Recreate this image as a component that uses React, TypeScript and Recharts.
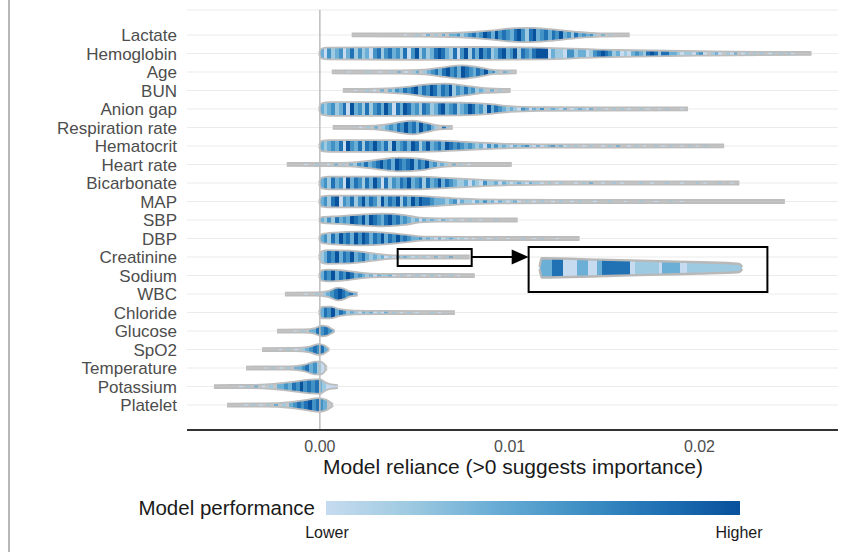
import React from 'react';
import {
    ComposedChart, Area, XAxis, YAxis, CartesianGrid, ReferenceLine, ReferenceArea, ReferenceDot
} from 'recharts';

const FONT = '"Liberation Sans", Arial, Helvetica, sans-serif';

const FEATURES = [
    'Lactate', 'Hemoglobin', 'Age', 'BUN', 'Anion gap', 'Respiration rate', 'Hematocrit',
    'Heart rate', 'Bicarbonate', 'MAP', 'SBP', 'DBP', 'Creatinine', 'Sodium', 'WBC',
    'Chloride', 'Glucose', 'SpO2', 'Temperature', 'Potassium', 'Platelet'
];

// violin outline per feature: [model reliance, half width in rows]
const PROFILES: number[][][] = [
    [[0.00168, 0.08], [0.00526, 0.085], [0.00737, 0.13], [0.00895, 0.235], [0.01026, 0.37], [0.01105, 0.385], [0.01211, 0.32], [0.01342, 0.18], [0.01474, 0.09], [0.01632, 0.08]],
    [[-0.00005, 0.03], [0.0001, 0.27], [0.0004, 0.32], [0.0042, 0.34], [0.0084, 0.35], [0.0116, 0.32], [0.0147, 0.21], [0.0174, 0.16], [0.02, 0.12], [0.0232, 0.085], [0.0259, 0.08]],
    [[0.00063, 0.08], [0.00421, 0.085], [0.00553, 0.13], [0.00658, 0.265], [0.00747, 0.36], [0.00832, 0.265], [0.00921, 0.1], [0.01037, 0.08]],
    [[0.00121, 0.08], [0.00316, 0.1], [0.00474, 0.21], [0.00579, 0.345], [0.00658, 0.37], [0.00763, 0.265], [0.00868, 0.13], [0.01005, 0.08]],
    [[-0.00005, 0.03], [0.0001, 0.31], [0.0005, 0.37], [0.0042, 0.37], [0.0074, 0.345], [0.009, 0.265], [0.01, 0.155], [0.0116, 0.1], [0.0147, 0.085], [0.0194, 0.08]],
    [[0.00068, 0.08], [0.00237, 0.085], [0.00342, 0.155], [0.00421, 0.29], [0.00489, 0.37], [0.00553, 0.265], [0.00632, 0.1], [0.007, 0.08]],
    [[-0.00005, 0.03], [0.0001, 0.28], [0.0005, 0.32], [0.0042, 0.32], [0.0063, 0.29], [0.0079, 0.21], [0.0095, 0.13], [0.0116, 0.09], [0.0158, 0.085], [0.0213, 0.08]],
    [[-0.00174, 0.08], [0.00053, 0.085], [0.00158, 0.1], [0.00289, 0.235], [0.00421, 0.37], [0.00526, 0.32], [0.00605, 0.18], [0.00711, 0.085], [0.01011, 0.08]],
    [[-0.00005, 0.03], [0.0001, 0.29], [0.0005, 0.345], [0.0053, 0.34], [0.0068, 0.265], [0.0084, 0.18], [0.01, 0.12], [0.0126, 0.09], [0.0221, 0.08]],
    [[-0.00005, 0.03], [0.0001, 0.28], [0.0005, 0.32], [0.0042, 0.32], [0.0058, 0.265], [0.0074, 0.155], [0.0095, 0.1], [0.0126, 0.085], [0.0245, 0.08]],
    [[-0.00005, 0.03], [0.0001, 0.155], [0.00105, 0.21], [0.00211, 0.29], [0.00332, 0.345], [0.00447, 0.265], [0.00526, 0.13], [0.00632, 0.085], [0.01042, 0.08]],
    [[-0.00005, 0.03], [0.0001, 0.235], [0.00079, 0.32], [0.00211, 0.37], [0.00342, 0.32], [0.00447, 0.21], [0.00553, 0.1], [0.00737, 0.085], [0.01368, 0.08]],
    [[-0.00005, 0.03], [0.0001, 0.31], [0.00042, 0.37], [0.00158, 0.345], [0.00237, 0.265], [0.00316, 0.155], [0.00395, 0.09], [0.00526, 0.085], [0.00789, 0.08]],
    [[-0.00005, 0.03], [0.0001, 0.28], [0.00042, 0.32], [0.00132, 0.265], [0.00211, 0.155], [0.00316, 0.09], [0.00526, 0.085], [0.00816, 0.08]],
    [[-0.00184, 0.08], [-0.00026, 0.085], [0.00042, 0.155], [0.00095, 0.345], [0.00132, 0.265], [0.00158, 0.13], [0.002, 0.08]],
    [[-0.00005, 0.03], [0.0001, 0.31], [0.00053, 0.32], [0.00105, 0.18], [0.00184, 0.1], [0.00316, 0.085], [0.00711, 0.08]],
    [[-0.00226, 0.08], [-0.00079, 0.085], [-0.00026, 0.155], [0.0001, 0.29], [0.00042, 0.235], [0.00068, 0.085], [0.00078, 0.04]],
    [[-0.00305, 0.08], [-0.00132, 0.085], [-0.00053, 0.155], [-0.00005, 0.29], [0.00026, 0.21], [0.00042, 0.085], [0.0005, 0.04]],
    [[-0.00389, 0.08], [-0.00158, 0.085], [-0.00079, 0.18], [-0.00026, 0.345], [0.00005, 0.345], [0.00026, 0.18], [0.00037, 0.04]],
    [[-0.00558, 0.08], [-0.00368, 0.085], [-0.00263, 0.13], [-0.00158, 0.235], [-0.00053, 0.37], [0, 0.4], [0.00026, 0.235], [0.00053, 0.13], [0.00095, 0.08]],
    [[-0.00489, 0.08], [-0.00289, 0.085], [-0.00158, 0.155], [-0.00079, 0.265], [-0.0001, 0.37], [0.00032, 0.29], [0.00058, 0.13], [0.0007, 0.04]],
];

// model performance of the fitted models, binned along reliance (0 = no model, 1 low .. 6 high)
const STRIPE_BIN = 0.0002;
const STRIPE_START = [
    0.00421, 0, 0.00105, 0.00158, 0, 0.00184, 0, -0.00105, 0, 0, 0, 0, 0, 0, -0.00105, 0,
    -0.00158, -0.00237, -0.00316, -0.00447, -0.00421
];
const STRIPES = [
    '01002013020303342345346536454356425634535463425343420302',
    '314234135242314524534251462423565325146253645235634625435666132214423312456542312134325652553321221341023102130120202012020210',
    '001000020010020301023023453564536543546342032',
    '0100201030324354563546535462435342320302',
    '3234235163425245364153653425423563452346534263543232143132402321301232130201020201002010010200010',
    '0102030234354645364532052',
    '323435164352546435263453652463453654543432314242321323421312342312020102001020300102010020102001020102',
    '0100200103020324353456453654563546342320302010',
    '34253416354253641524354634525346354322313214223132123213221020120001020300100201000020010002000100020100020010',
    '342561435246354263546253646554333234132213242313212310201020010200102000100020001000200010002001000',
    '3242534365463654356453432313232132120102001000200',
    '34253645364653546354645433423213123212101020102001000200102000100',
    '23546354634532323121323212021031024020',
    '35463546534323132231020102010201002010',
    '0100202345654531',
    '3546354232132312130201020100020100',
    '010203354543',
    '01020102345453',
    '01020102033453421',
    '010203010203343546454532111',
    '01020102030203454564543',
];

const LEVEL_COLORS = ['#c3c6c9', '#c6dbef', '#9ecae1', '#6baed6', '#4292c6', '#2171b5', '#08519c'];

// magnified tail of Creatinine shown in the inset box
const INSET_ROW = 7.41;
const INSET_PROFILE = [[0.01158, 0.05], [0.01168, 0.52], [0.0147, 0.45], [0.0179, 0.36], [0.02, 0.31], [0.0221, 0.22], [0.02225, 0.06]];
const INSET_BREAKS = [0.01163, 0.01221, 0.01279, 0.01353, 0.01411, 0.01458, 0.01484, 0.01632, 0.01658, 0.01789, 0.01805, 0.01895, 0.01932, 0.02211];
const INSET_LEVELS = [3, 5, 1, 3, 1, 3, 5, 1, 2, 1, 3, 1, 2];

const X_TICKS = [0, 0.01, 0.02];
const ROWS = FEATURES.map((_f, i) => i);
const GRAY = LEVEL_COLORS[0];

type Stop = { o: number; c: string };

function featureStops(profile: number[][], start: number, codes: string): Stop[] {
    const x0 = profile[0][0];
    const x1 = profile[profile.length - 1][0];
    const off = (x: number) => Math.min(1, Math.max(0, (x - x0) / (x1 - x0)));
    const out: Stop[] = [{ o: 0, c: GRAY }, { o: off(start), c: GRAY }];
    codes.split('').forEach((ch, k) => {
        const c = LEVEL_COLORS[Number(ch)] || GRAY;
        out.push({ o: off(start + k * STRIPE_BIN), c }, { o: off(start + (k + 1) * STRIPE_BIN), c });
    });
    out.push({ o: off(start + codes.length * STRIPE_BIN), c: GRAY }, { o: 1, c: GRAY });
    return out;
}

function insetStops(): Stop[] {
    const x0 = INSET_PROFILE[0][0];
    const x1 = INSET_PROFILE[INSET_PROFILE.length - 1][0];
    const off = (x: number) => Math.min(1, Math.max(0, (x - x0) / (x1 - x0)));
    const out: Stop[] = [{ o: 0, c: LEVEL_COLORS[3] }];
    INSET_LEVELS.forEach((lv, k) => {
        const c = LEVEL_COLORS[lv];
        out.push({ o: off(INSET_BREAKS[k]), c }, { o: off(INSET_BREAKS[k + 1]), c });
    });
    out.push({ o: 1, c: LEVEL_COLORS[2] });
    return out;
}

const Arrowhead = (p: any) => (
    <polygon points={`${p.cx - 9},${p.cy - 7.5} ${p.cx + 8},${p.cy} ${p.cx - 9},${p.cy + 7.5}`} fill="#000" />
);

const App: React.FC = () => {
    const violins = FEATURES.map((name, i) => {
        const row = FEATURES.length - 1 - i;
        return {
            name,
            data: PROFILES[i].map(([x, h]) => ({ x, r: [row - h, row + h] })),
            stops: featureStops(PROFILES[i], STRIPE_START[i], STRIPES[i]),
        };
    });
    const insetData = INSET_PROFILE.map(([x, h]) => ({ x, r: [INSET_ROW - h, INSET_ROW + h] }));

    return (
        <div style={{ position: 'absolute', left: 0, top: 0, width: 848, height: 552, background: '#fff', fontFamily: FONT }}>
            <ComposedChart width={848} height={552} margin={{ top: 10, right: 10, bottom: 92, left: 0 }}>
                <defs>
                    {violins.map((v, i) => (
                        <linearGradient key={v.name} id={`vg${i}`} x1="0" y1="0" x2="1" y2="0">
                            {v.stops.map((s, k) => (
                                <stop key={k} offset={`${(s.o * 100).toFixed(3)}%`} stopColor={s.c} />
                            ))}
                        </linearGradient>
                    ))}
                    <linearGradient id="vgInset" x1="0" y1="0" x2="1" y2="0">
                        {insetStops().map((s, k) => (
                            <stop key={k} offset={`${(s.o * 100).toFixed(3)}%`} stopColor={s.c} />
                        ))}
                    </linearGradient>
                </defs>
                <CartesianGrid vertical={false} stroke="#ebebeb" strokeWidth={1.2} />
                <XAxis
                    type="number"
                    dataKey="x"
                    domain={[-0.007, 0.0273]}
                    allowDataOverflow
                    ticks={X_TICKS}
                    tickFormatter={(v: number) => v.toFixed(2)}
                    tickLine={false}
                    axisLine={{ stroke: '#333', strokeWidth: 2 }}
                    tick={{ fill: '#4d4d4d', fontSize: 16, fontFamily: FONT }}
                    tickMargin={5}
                    height={30}
                />
                <YAxis
                    type="number"
                    domain={[-1.35, 21.35]}
                    allowDataOverflow
                    ticks={ROWS}
                    interval={0}
                    tickFormatter={(v: number) => FEATURES[FEATURES.length - 1 - v]}
                    width={187}
                    tickLine={false}
                    axisLine={false}
                    tick={{ fill: '#4d4d4d', fontSize: 17, fontFamily: FONT }}
                    tickMargin={4}
                />
                <ReferenceLine x={0} stroke="#bdbdbd" strokeWidth={1.5} />
                {violins.map((v, i) => (
                    <Area
                        key={v.name}
                        data={v.data}
                        dataKey="r"
                        type="monotone"
                        fill={`url(#vg${i})`}
                        fillOpacity={1}
                        stroke="#bdbdbd"
                        strokeWidth={1.8}
                        dot={false}
                        activeDot={false}
                        isAnimationActive={false}
                    />
                ))}
                <ReferenceArea x1={0.0041} x2={0.008} y1={7.52} y2={8.43} stroke="#000" strokeWidth={2} fill="none" fillOpacity={0} />
                <ReferenceLine segment={[{ x: 0.008, y: 8 }, { x: 0.0103, y: 8 }]} stroke="#000" strokeWidth={2} />
                <ReferenceDot x={0.01058} y={8} r={8} shape={Arrowhead} />
                <ReferenceArea x1={0.011} x2={0.02358} y1={6.11} y2={8.54} stroke="#000" strokeWidth={2} fill="none" fillOpacity={0} />
                <Area
                    data={insetData}
                    dataKey="r"
                    type="monotone"
                    fill="url(#vgInset)"
                    fillOpacity={1}
                    stroke="#b8b8b8"
                    strokeWidth={2.4}
                    dot={false}
                    activeDot={false}
                    isAnimationActive={false}
                />
            </ComposedChart>
            <svg width={848} height={552} style={{ position: 'absolute', left: 0, top: 0, pointerEvents: 'none' }}>
                <defs>
                    <linearGradient id="legendGrad" x1="0" y1="0" x2="1" y2="0">
                        {LEVEL_COLORS.slice(1).map((c, k) => (
                            <stop key={c} offset={`${k * 20}%`} stopColor={c} />
                        ))}
                    </linearGradient>
                </defs>
                <line x1={9} y1={0} x2={9} y2={552} stroke="#a0a0a0" strokeWidth={1.5} />
                <text x={513} y={474} textAnchor="middle" fontSize={21} fill="#1a1a1a" fontFamily={FONT}>
                    Model reliance (&gt;0 suggests importance)
                </text>
                <text x={315} y={515} textAnchor="end" fontSize={20.5} fill="#1a1a1a" fontFamily={FONT}>
                    Model performance
                </text>
                <rect x={326} y={501} width={414} height={14} fill="url(#legendGrad)" />
                <text x={327} y={538} textAnchor="middle" fontSize={16} fill="#1a1a1a" fontFamily={FONT}>Lower</text>
                <text x={739} y={538} textAnchor="middle" fontSize={16} fill="#1a1a1a" fontFamily={FONT}>Higher</text>
            </svg>
        </div>
    );
};

export default App;
